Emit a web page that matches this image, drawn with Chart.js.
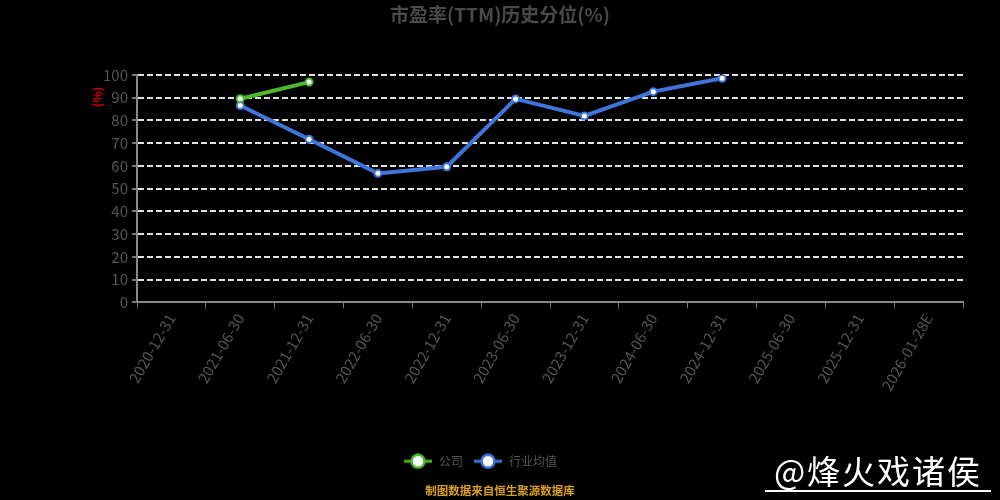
<!DOCTYPE html>
<html>
<head>
<meta charset="utf-8">
<script src="https://cdn.jsdelivr.net/npm/chart.js@4/dist/chart.umd.min.js"></script>
<style>
  html, body { margin:0; padding:0; background:#000; }
  #wrap { position:relative; width:1000px; height:500px; background:#000; }
  canvas { position:absolute; left:0; top:0; }
  #wm { position:absolute; left:765px; top:451px; width:226px; font-family:"Noto Sans CJK SC", sans-serif; font-size:33px; color:#fff; border-bottom:2px solid #fff; line-height:39px; text-align:center; letter-spacing:2px; }
  #yunit { position:absolute; left:82px; top:89px; width:30px; height:16px; line-height:16px; text-align:center; transform:rotate(-90deg); font-family:"Noto Sans CJK SC", sans-serif; font-size:12px; font-weight:bold; color:#e00000; }
</style>
</head>
<body>
<div id="wrap">
  <canvas id="c" width="1000" height="500"></canvas>
  <div id="yunit">(%)</div>
  <div id="wm">@烽火戏诸侯</div>
</div>
<script>
const categories = ['2020-12-31','2021-06-30','2021-12-31','2022-06-30','2022-12-31','2023-06-30','2023-12-31','2024-06-30','2024-12-31','2025-06-30','2025-12-31','2026-01-28E'];
const companyValues = [null, 89.5, 96.8, null, null, null, null, null, null, null, null, null];
const industryValues = [null, 86.5, 71.7, 56.7, 59.6, 89.4, 81.9, 92.6, 98.5, null, null, null];
const yTicks = [0,10,20,30,40,50,60,70,80,90,100];
const titleText = '市盈率(TTM)历史分位(%)';
const footerText = '制图数据来自恒生聚源数据库';
const seriesColors = ['#4cb82c', '#3f74d9'];

const FONT = '"Noto Sans CJK SC", "DejaVu Sans", sans-serif';

function legendIcon(color) {
  const c = document.createElement('canvas');
  c.width = 30; c.height = 16;
  const g = c.getContext('2d');
  g.strokeStyle = color; g.lineWidth = 3;
  g.beginPath(); g.moveTo(1, 8); g.lineTo(29, 8); g.stroke();
  g.beginPath(); g.arc(15, 8, 6.5, 0, Math.PI * 2);
  g.fillStyle = '#ffffff'; g.fill();
  g.lineWidth = 2.5; g.stroke();
  return c;
}

const shiftLegend = {
  id: 'shiftLegend',
  afterLayout(chart) {
    if (chart.legend) { chart.legend.left -= 20; chart.legend.right -= 20; }
  }
};

const ctx = document.getElementById('c');
new Chart(ctx, {
  type: 'line',
  data: {
    labels: categories,
    datasets: [
      {
        label: '公司',
        data: companyValues,
        borderColor: seriesColors[0],
        backgroundColor: '#ffffff',
        borderWidth: 4,
        pointRadius: 3.5,
        pointBorderWidth: 2,
        pointBorderColor: seriesColors[0],
        pointBackgroundColor: '#ffffff',
        tension: 0
      },
      {
        label: '行业均值',
        data: industryValues,
        borderColor: seriesColors[1],
        backgroundColor: '#ffffff',
        borderWidth: 4,
        pointRadius: 3.5,
        pointBorderWidth: 2,
        pointBorderColor: seriesColors[1],
        pointBackgroundColor: '#ffffff',
        tension: 0
      }
    ]
  },
  plugins: [shiftLegend],
  options: {
    responsive: false,
    animation: false,
    layout: { padding: { left: 37, right: 37, top: 0, bottom: 2 } },
    plugins: {
      title: {
        display: true,
        text: titleText,
        color: '#4a4a4a',
        font: { family: FONT, size: 19, weight: 'bold' },
        padding: { top: 3, bottom: 49 }
      },
      subtitle: {
        display: true,
        position: 'bottom',
        text: footerText,
        color: '#d9a020',
        font: { family: FONT, size: 11.5, weight: 'bold' },
        padding: { top: 7, bottom: 0 }
      },
      legend: {
        position: 'bottom',
        labels: {
          color: '#555',
          font: { family: FONT, size: 12 },
          usePointStyle: true,
          pointStyleWidth: 30,
          boxHeight: 16,
          padding: 10,
          generateLabels: (chart) => chart.data.datasets.map((ds, i) => ({
            text: ds.label,
            fontColor: '#555',
            pointStyle: legendIcon(seriesColors[i]),
            datasetIndex: i,
            hidden: false,
            lineWidth: 0,
            strokeStyle: seriesColors[i],
            fillStyle: '#fff'
          }))
        }
      },
      tooltip: { enabled: false }
    },
    scales: {
      x: {
        type: 'category',
        offset: true,
        grid: { display: true, drawOnChartArea: false, drawTicks: true, tickLength: 6, color: '#777', offset: true },
        border: { display: true, color: '#888', width: 2 },
        ticks: {
          color: '#555',
          font: { family: FONT, size: 15 },
          minRotation: 60,
          maxRotation: 60,
          autoSkip: false,
          padding: 2
        },
        title: { display: true, text: '', padding: { top: 35, bottom: 0 } }
      },
      y: {
        min: 0,
        max: 100,
        afterBuildTicks: (axis) => { axis.ticks = yTicks.map(v => ({ value: v })); },
        afterFit: (axis) => { axis.width = 100; },
        grid: { color: '#e0e0e0', lineWidth: 2, tickLength: 5, tickColor: '#777', tickBorderDash: [] },
        border: { display: true, color: '#888', width: 2, dash: [6, 3] },
        ticks: { color: '#555', font: { family: FONT, size: 15 }, padding: 4 }
      }
    }
  }
});
</script>
</body>
</html>
